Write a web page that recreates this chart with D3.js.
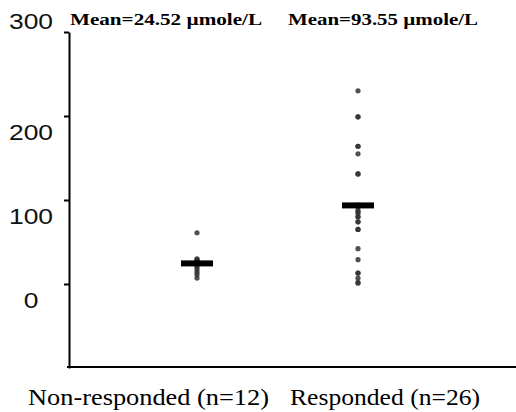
<!DOCTYPE html>
<html>
<head>
<meta charset="utf-8">
<script src="https://cdn.jsdelivr.net/npm/d3@7"></script>
<style>
  body { margin: 0; background: #fff; }
</style>
</head>
<body>
<div id="chart"></div>
<script>
// groups and their values (µmole/L)
const groups = ['Non-responded (n=12)', 'Responded (n=26)'];
const nonResponded = [61, 30, 29, 28, 27, 25, 23, 20, 17, 14, 11, 7];
const responded = [230, 199, 199, 164, 164, 155, 131, 131, 94, 92, 88, 86, 84,
  80, 80, 74, 74, 65, 65, 42, 29, 13, 13, 7, 2, 1];
const means = [24.52, 93.55];
const meanLabels = ['Mean=24.52 \u00b5mole/L', 'Mean=93.55 \u00b5mole/L'];
const yTicks = [0, 100, 200, 300];

const width = 516;
const height = 412;
const serif = "'Liberation Serif', 'Times New Roman', Times, serif";
const sans = "'Liberation Sans', Arial, sans-serif";

const svg = d3.select('#chart')
  .append('svg')
  .attr('width', width)
  .attr('height', height);

const y = d3.scaleLinear()
  .domain([-100, 300])
  .range([368, 32]);

const x = d3.scalePoint()
  .domain(groups)
  .range([197, 358]);

const axisX = 69;

// the original picture is stretched sideways, so text is widened to match
const stretch = 1.2;

// y axis
const yAxis = svg.append('g')
  .attr('transform', `translate(${axisX},0)`)
  .call(d3.axisLeft(y).tickValues(yTicks).tickSize(5).tickSizeOuter(0).tickFormat(''));

yAxis.select('.domain').attr('stroke', '#000').attr('stroke-width', 2);
yAxis.selectAll('.tick line').attr('stroke', '#000').attr('stroke-width', 2);

// tick labels sit below their ticks, except the top one
svg.append('g')
  .selectAll('text')
  .data(yTicks)
  .enter()
  .append('text')
  .attr('text-anchor', 'middle')
  .attr('transform', (d) => `translate(31,${d === 300 ? y(d) - 3 : y(d) + 24}) scale(${stretch},1)`)
  .style('font-family', sans)
  .style('font-size', '22px')
  .attr('fill', '#111')
  .text((d) => d);

// baseline
svg.append('line')
  .attr('x1', axisX - 2)
  .attr('x2', width)
  .attr('y1', y(-100) - 1)
  .attr('y2', y(-100) - 1)
  .attr('stroke', '#000')
  .attr('stroke-width', 2);

// dots
const series = [nonResponded, responded];
series.forEach((values, i) => {
  svg.append('g')
    .selectAll('circle')
    .data(values)
    .enter()
    .append('circle')
    .attr('cx', x(groups[i]))
    .attr('cy', (d) => y(d))
    .attr('r', 2.6)
    .attr('fill', '#333')
    .attr('fill-opacity', 0.85);
});

// mean bars
svg.append('g')
  .selectAll('rect')
  .data(means)
  .enter()
  .append('rect')
  .attr('x', (d, i) => x(groups[i]) - 16)
  .attr('y', (d) => y(d) - 3)
  .attr('width', 32)
  .attr('height', 6)
  .attr('fill', '#000');

// mean labels
svg.append('g')
  .selectAll('text')
  .data(meanLabels)
  .enter()
  .append('text')
  .attr('x', (d, i) => [70, 288][i])
  .attr('y', 25)
  .attr('textLength', (d, i) => [192, 190][i])
  .attr('lengthAdjust', 'spacingAndGlyphs')
  .style('font-family', serif)
  .style('font-weight', 'bold')
  .style('font-size', '16px')
  .text((d) => d);

// category labels
svg.append('g')
  .selectAll('text')
  .data(groups)
  .enter()
  .append('text')
  .attr('x', (d, i) => [28, 290][i])
  .attr('y', 405)
  .attr('textLength', (d, i) => [241, 190][i])
  .attr('lengthAdjust', 'spacingAndGlyphs')
  .style('font-family', serif)
  .style('font-size', '23px')
  .text((d) => d);
</script>
</body>
</html>
